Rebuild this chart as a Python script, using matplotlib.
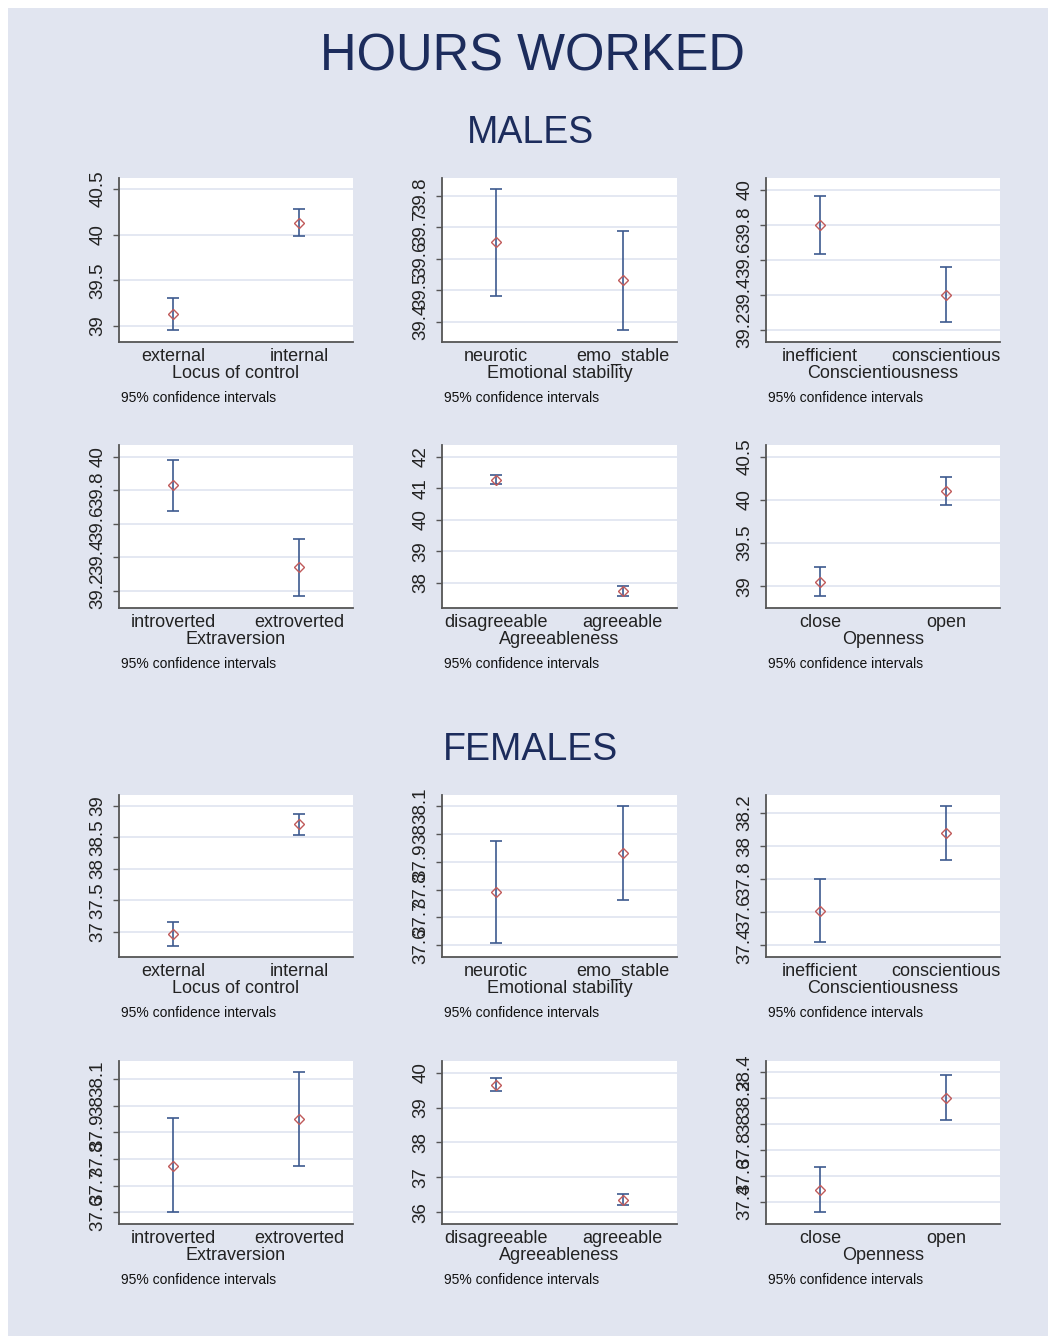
import matplotlib
matplotlib.use('Agg')
import matplotlib.pyplot as plt
from matplotlib.patches import Rectangle

plt.rcParams['font.family'] = ['Liberation Sans', 'DejaVu Sans']

# data
traits = ['Locus of control', 'Emotional stability', 'Conscientiousness',
          'Extraversion', 'Agreeableness', 'Openness']
levels = [('external', 'internal'), ('neurotic', 'emo_stable'),
          ('inefficient', 'conscientious'), ('introverted', 'extroverted'),
          ('disagreeable', 'agreeable'), ('close', 'open')]

male_mean = [(39.13, 40.13), (39.652, 39.533), (39.796, 39.40),
             (39.83, 39.339), (41.26, 37.76), (39.05, 40.10)]
male_lo = [(38.96, 39.98), (39.484, 39.376), (39.634, 39.244),
           (39.677, 39.168), (41.12, 37.60), (38.89, 39.946)]
male_hi = [(39.31, 40.28), (39.821, 39.688), (39.967, 39.556),
           (39.98, 39.508), (41.42, 37.915), (39.22, 40.27)]

female_mean = [(36.97, 38.71), (37.79, 37.932), (37.606, 38.081),
               (37.774, 37.95), (39.65, 36.37), (37.493, 38.205)]
female_lo = [(36.78, 38.54), (37.609, 37.762), (37.42, 37.917),
             (37.60, 37.774), (39.46, 36.20), (37.318, 38.03)]
female_hi = [(37.16, 38.87), (37.973, 38.10), (37.80, 38.244),
             (37.952, 38.125), (39.84, 36.54), (37.668, 38.38)]

male_ticks = [[39, 39.5, 40, 40.5], [39.4, 39.5, 39.6, 39.7, 39.8],
              [39.2, 39.4, 39.6, 39.8, 40], [39.2, 39.4, 39.6, 39.8, 40],
              [38, 39, 40, 41, 42], [39, 39.5, 40, 40.5]]
female_ticks = [[37, 37.5, 38, 38.5, 39], [37.6, 37.7, 37.8, 37.9, 38, 38.1],
                [37.4, 37.6, 37.8, 38, 38.2], [37.6, 37.7, 37.8, 37.9, 38, 38.1],
                [36, 37, 38, 39, 40], [37.4, 37.6, 37.8, 38, 38.2, 38.4]]

male_ylim = [(38.825, 40.62), (39.337, 39.856), (39.13, 40.067),
             (39.097, 40.07), (37.21, 42.37), (38.75, 40.635)]
female_ylim = [(36.605, 39.17), (37.558, 38.14), (37.33, 38.31),
               (37.556, 38.167), (35.67, 40.33), (37.228, 38.487)]

W, H = 1048, 1344
BG = '#e1e5f0'
NAVY = '#1c2c5c'
BAR = '#3d5a8f'
MARK = '#c05a5a'

fig = plt.figure(figsize=(W / 100, H / 100), dpi=100, facecolor='white')
fig.patches.append(Rectangle((8 / W, 8 / H), (W - 8) / W, (H - 16) / H,
                             transform=fig.transFigure, facecolor=BG,
                             edgecolor='none', zorder=-10))

cols = [(119, 353), (442, 677), (766, 1000)]
rows = [(178, 342), (445, 608), (795, 957), (1061, 1224)]


def panel(r, c, k, mean, lo, hi, ticks, ylim):
    x0, x1 = cols[c]
    y0, y1 = rows[r]
    ax = fig.add_axes([x0 / W, 1 - y1 / H, (x1 - x0) / W, (y1 - y0) / H])
    ax.set_facecolor('white')
    xs = [0, 1]
    m = list(mean[k])
    err = [[m[i] - lo[k][i] for i in xs], [hi[k][i] - m[i] for i in xs]]
    ax.errorbar(xs, m, yerr=err, fmt='none', ecolor=BAR, elinewidth=1.2,
                capsize=4, capthick=1.2, zorder=3)
    ax.plot(xs, m, 'D', ms=5.5, mfc='none', mec=MARK, mew=1.0, zorder=4)
    ax.set_xlim(-0.43, 1.43)
    ax.set_ylim(*ylim[k])
    ax.set_yticks(ticks[k])
    ax.set_yticklabels(['{:g}'.format(t) for t in ticks[k]])
    ax.yaxis.grid(True, color='#e4e8f2', lw=1.4)
    ax.set_axisbelow(True)
    ax.tick_params(axis='y', length=4, width=1, color='#555555', pad=5,
                   labelsize=13.5, labelcolor='#222222', labelrotation=90)
    for t in ax.get_yticklabels():
        t.set_va('center')
    ax.set_xticks(xs)
    ax.set_xticklabels(levels[k])
    ax.tick_params(axis='x', length=0, pad=4, labelsize=13, labelcolor='#222222')
    ax.set_xlabel(traits[k], fontsize=13, color='#222222', labelpad=0)
    for s in ['top', 'right']:
        ax.spines[s].set_visible(False)
    for s in ['left', 'bottom']:
        ax.spines[s].set_color('#555555')
        ax.spines[s].set_linewidth(1.3)
    fig.text((x0 + 2) / W, 1 - (y1 + 56) / H, '95% confidence intervals',
             fontsize=10, color='#111111', va='center', ha='left')


for k in range(6):
    r, c = divmod(k, 3)
    panel(r, c, k, male_mean, male_lo, male_hi, male_ticks, male_ylim)
    panel(r + 2, c, k, female_mean, female_lo, female_hi, female_ticks, female_ylim)

fig.text(532 / W, 1 - 57 / H, 'HOURS WORKED', fontsize=36.5, color=NAVY,
         ha='center', va='center')
fig.text(531 / W, 1 - 133 / H, 'MALES', fontsize=27, color=NAVY,
         ha='center', va='center')
fig.text(531 / W, 1 - 750 / H, 'FEMALES', fontsize=27, color=NAVY,
         ha='center', va='center')

fig.savefig('out.png', dpi=100, facecolor='white')
